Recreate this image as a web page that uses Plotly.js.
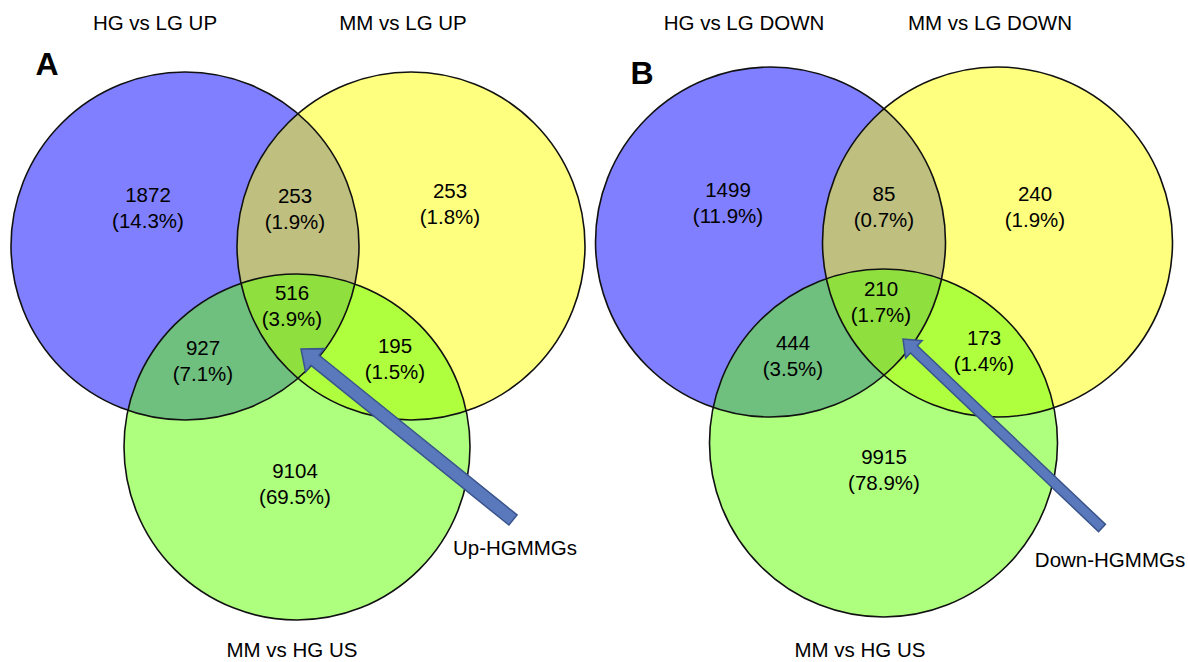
<!DOCTYPE html>
<html>
<head>
<meta charset="utf-8">
<script src="https://cdn.plot.ly/plotly-3.0.1.min.js"></script>
<style>html,body{margin:0;padding:0;background:#fff;}#chart{width:1188px;height:662px;}</style>
</head>
<body>
<div id="chart"></div>
<script>
// ---------- DATA ----------
const setLabelsA = ['HG vs LG UP', 'MM vs LG UP', 'MM vs HG US'];
const setLabelsB = ['HG vs LG DOWN', 'MM vs LG DOWN', 'MM vs HG US'];
// region order: HG only, HG∩MM, MM only, HG∩US, all three, MM∩US, US only
const countsA = [1872, 253, 253, 927, 516, 195, 9104];
const pctA = ['14.3%', '1.9%', '1.8%', '7.1%', '3.9%', '1.5%', '69.5%'];
const countsB = [1499, 85, 240, 444, 210, 173, 9915];
const pctB = ['11.9%', '0.7%', '1.9%', '3.5%', '1.7%', '1.4%', '78.9%'];
const panelLetters = ['A', 'B'];
const arrowLabels = ['Up-HGMMGs', 'Down-HGMMGs'];

// ---------- LAYOUT GEOMETRY (figure units) ----------
const panels = [
  {
    sets: setLabelsA, counts: countsA, pct: pctA, letter: panelLetters[0], arrowLabel: arrowLabels[0],
    circles: [{cx: 185, cy: 246, r: 174}, {cx: 411, cy: 246, r: 174}, {cx: 297, cy: 447, r: 173}],
    regionPos: [[148, 197], [295, 198], [450, 193], [203, 350], [292, 295], [395, 348], [295, 473]],
    titlePos: [[155, 25], [403, 25], [292, 652]],
    letterPos: [47, 67],
    arrow: {tip: [301, 349], tail: [513, 520], shaft: 13, headW: 15, headL: 18},
    arrowLabelPos: [515, 550]
  },
  {
    sets: setLabelsB, counts: countsB, pct: pctB, letter: panelLetters[1], arrowLabel: arrowLabels[1],
    circles: [{cx: 770.5, cy: 242, r: 175}, {cx: 997.5, cy: 242, r: 175}, {cx: 883.5, cy: 443, r: 174}],
    regionPos: [[728, 192], [884, 196], [1035, 196], [793, 345], [881, 291], [984, 340], [884, 459]],
    titlePos: [[744, 25], [990, 25], [860, 652]],
    letterPos: [642, 76],
    arrow: {tip: [903, 339], tail: [1102, 528], shaft: 10, headW: 12, headL: 15},
    arrowLabelPos: [1110, 562]
  }
];
const fills = ['rgba(0,0,255,0.5)', 'rgba(255,255,0,0.5)', 'rgba(96,255,0,0.5)'];
const lineGap = 26;
const FONT = 'Liberation Sans, Arial, sans-serif';

const shapes = [];
const traces = [];

function arrowPath(a) {
  const [tx, ty] = a.tip, [sx, sy] = a.tail;
  const dx = tx - sx, dy = ty - sy, len = Math.hypot(dx, dy);
  const ux = dx / len, uy = dy / len, px = -uy, py = ux;
  const bx = tx - ux * a.headL, by = ty - uy * a.headL;
  const h = a.shaft / 2;
  const pts = [
    [sx + px * h, sy + py * h], [bx + px * h, by + py * h], [bx + px * a.headW, by + py * a.headW],
    [tx, ty],
    [bx - px * a.headW, by - py * a.headW], [bx - px * h, by - py * h], [sx - px * h, sy - py * h]
  ];
  return 'M' + pts.map(p => p[0].toFixed(2) + ',' + p[1].toFixed(2)).join(' L') + ' Z';
}

panels.forEach(p => {
  // fills
  p.circles.forEach((c, i) => {
    shapes.push({type: 'circle', xref: 'x', yref: 'y', x0: c.cx - c.r, x1: c.cx + c.r, y0: c.cy - c.r, y1: c.cy + c.r,
      fillcolor: fills[i], line: {width: 0}, layer: 'below'});
  });
  // outlines
  p.circles.forEach(c => {
    shapes.push({type: 'circle', xref: 'x', yref: 'y', x0: c.cx - c.r, x1: c.cx + c.r, y0: c.cy - c.r, y1: c.cy + c.r,
      fillcolor: 'rgba(0,0,0,0)', line: {color: '#111', width: 1.6}, layer: 'below'});
  });
  // arrow
  shapes.push({type: 'path', xref: 'x', yref: 'y', path: arrowPath(p.arrow),
    fillcolor: 'rgb(90,120,188)', line: {color: 'rgb(58,84,140)', width: 1.5}, layer: 'above'});

  // region counts and percentages
  traces.push({type: 'scatter', mode: 'text', x: p.regionPos.map(q => q[0]), y: p.regionPos.map(q => q[1]),
    text: p.counts.map(String), textposition: 'middle center', textfont: {family: FONT, size: 20.5, color: '#000'}, hoverinfo: 'skip'});
  traces.push({type: 'scatter', mode: 'text', x: p.regionPos.map(q => q[0]), y: p.regionPos.map(q => q[1] + lineGap),
    text: p.pct.map(s => '(' + s + ')'), textposition: 'middle center', textfont: {family: FONT, size: 20.5, color: '#000'}, hoverinfo: 'skip'});
  // set titles
  traces.push({type: 'scatter', mode: 'text', x: p.titlePos.map(q => q[0]), y: p.titlePos.map(q => q[1]),
    text: p.sets, textposition: 'middle center', textfont: {family: FONT, size: 20.5, color: '#000'}, hoverinfo: 'skip'});
  // panel letter
  traces.push({type: 'scatter', mode: 'text', x: [p.letterPos[0]], y: [p.letterPos[1]],
    text: ['<b>' + p.letter + '</b>'], textposition: 'middle center', textfont: {family: FONT, size: 32, color: '#000'}, hoverinfo: 'skip'});
  // arrow label
  traces.push({type: 'scatter', mode: 'text', x: [p.arrowLabelPos[0]], y: [p.arrowLabelPos[1]],
    text: [p.arrowLabel], textposition: 'middle center', textfont: {family: FONT, size: 20.5, color: '#000'}, hoverinfo: 'skip'});
});

const layout = {
  width: 1188, height: 662,
  margin: {l: 0, r: 0, t: 0, b: 0, pad: 0},
  paper_bgcolor: '#fff', plot_bgcolor: '#fff',
  showlegend: false,
  xaxis: {range: [0, 1188], visible: false, fixedrange: true},
  yaxis: {range: [662, 0], visible: false, fixedrange: true},
  shapes: shapes
};

Plotly.newPlot('chart', traces, layout, {staticPlot: true, displayModeBar: false});
</script>
</body>
</html>
